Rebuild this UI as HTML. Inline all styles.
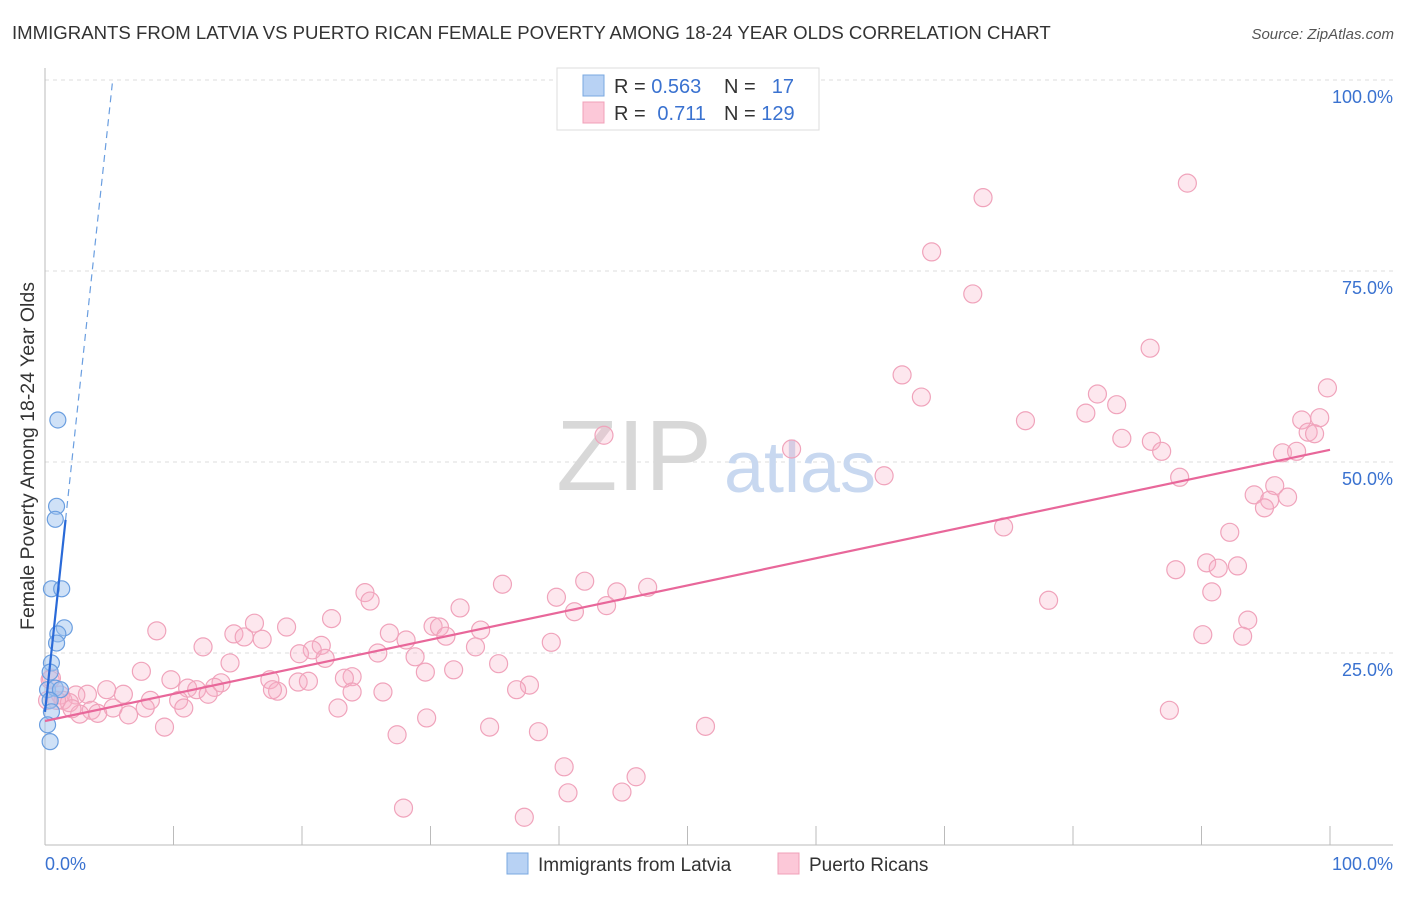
<!DOCTYPE html>
<html><head><meta charset="utf-8"><style>
body{margin:0;background:#fff;font-family:"Liberation Sans",sans-serif;}
svg text{font-family:"Liberation Sans",sans-serif;}
</style></head><body>
<svg id="chart" width="1406" height="892" viewBox="0 0 1406 892">
<text x="12" y="39" font-size="18.6" fill="#333">IMMIGRANTS FROM LATVIA VS PUERTO RICAN FEMALE POVERTY AMONG 18-24 YEAR OLDS CORRELATION CHART</text>
<text x="1394" y="39" font-size="15" fill="#555" font-style="italic" text-anchor="end">Source: ZipAtlas.com</text>
<g id="grid"></g>
<text x="634" y="490" font-size="100" fill="#d8d8d8" font-family="Liberation Serif" text-anchor="middle">ZIP</text>
<text x="800" y="492" font-size="72" fill="#c8d8f0" text-anchor="middle">atlas</text>
<g id="marks"></g>
<text x="34" y="456" font-size="19.5" fill="#333" text-anchor="middle" transform="rotate(-90 34 456)">Female Poverty Among 18-24 Year Olds</text>
<g>
<rect x="557" y="68" width="262" height="62" fill="#fff" stroke="#ddd"/>
<rect x="583" y="75" width="21" height="21" fill="#b8d2f4" stroke="#7aa8e0"/>
<rect x="583" y="102" width="21" height="21" fill="#fcc8d8" stroke="#f0a0b8"/>
<text x="614" y="93" font-size="20" fill="#333">R = <tspan fill="#3a72d0">0.563</tspan></text>
<text x="724" y="93" font-size="20" fill="#333">N = </text><text x="794" y="93" font-size="20" fill="#3a72d0" text-anchor="end">17</text>
<text x="614" y="120" font-size="20" fill="#333">R = </text><text x="706" y="120" font-size="20" fill="#3a72d0" text-anchor="end">0.711</text>
<text x="724" y="120" font-size="20" fill="#333">N = <tspan fill="#3a72d0">129</tspan></text>
</g>
<g>
<rect x="507" y="853" width="21" height="21" fill="#b8d2f4" stroke="#7aa8e0"/>
<text x="538" y="871" font-size="19" fill="#333">Immigrants from Latvia</text>
<rect x="778" y="853" width="21" height="21" fill="#fcc8d8" stroke="#f0a0b8"/>
<text x="809" y="871" font-size="19" fill="#333">Puerto Ricans</text>
</g>
</svg>
<script>
const yTicks=[25,50,75,100];
const yTickLabels=["25.0%","50.0%","75.0%","100.0%"];
const xTickLabels=["0.0%","100.0%"];
const latviaX=[1.0,0.9,0.8,0.5,1.3,1.5,1.0,0.9,0.5,0.4,0.2,0.8,1.2,0.4,0.5,0.2,0.4];
const latviaY=[55.5,44.2,42.5,33.4,33.4,28.3,27.5,26.3,23.7,22.5,20.2,20.4,20.2,18.8,17.3,15.6,13.4];
const prX=[88.9,73.0,69.0,72.2,86.0,66.7,99.8,68.2,81.9,83.4,81.0,76.3,97.8,99.2,43.5,98.3,98.8,83.8,86.1,86.9,58.1,96.3,97.4,65.3,88.3,94.1,95.7,95.3,96.7,94.9,74.6,92.2,90.4,91.3,92.8,88.0,90.8,42.0,35.6,46.9,44.5,39.8,78.1,24.9,25.3,32.3,43.7,41.2,22.3,93.6,16.3,18.8,8.7,30.2,30.7,33.9,26.8,14.7,16.9,15.5,39.4,90.1,93.2,28.1,31.2,21.5,12.3,20.8,19.8,33.5,25.9,21.8,28.8,14.4,35.3,7.5,31.8,29.6,23.9,23.3,17.5,19.7,20.5,9.8,13.7,13.2,11.1,11.8,37.7,4.8,6.1,18.1,17.7,23.9,26.3,36.7,12.7,8.2,10.4,3.3,2.4,1.2,1.4,1.9,5.3,3.6,7.8,6.5,4.1,2.7,10.8,22.8,2.1,87.5,29.7,9.3,51.4,34.6,38.4,27.4,40.4,46.0,40.7,44.9,27.9,37.3,0.4,0.5,0.9,0.2];
const prY=[86.5,84.6,77.5,72.0,64.9,61.4,59.7,58.5,58.9,57.5,56.4,55.4,55.5,55.8,53.5,53.9,53.7,53.1,52.7,51.4,51.7,51.2,51.4,48.2,48.0,45.7,46.9,45.0,45.4,44.0,41.5,40.8,36.8,36.1,36.4,35.9,33.0,34.4,34.0,33.6,33.0,32.3,31.9,32.9,31.8,30.9,31.2,30.4,29.5,29.3,28.9,28.4,27.9,28.5,28.4,28.0,27.6,27.5,26.8,27.1,26.4,27.4,27.2,26.7,27.2,26.0,25.8,25.4,24.9,25.8,25.0,24.3,24.5,23.7,23.6,22.6,22.8,22.5,21.9,21.7,21.5,21.2,21.3,21.5,21.1,20.5,20.4,20.2,20.8,20.2,19.6,20.0,20.2,19.9,19.9,20.2,19.6,18.8,18.8,19.6,19.5,19.5,18.8,18.5,17.8,17.5,17.8,16.9,17.1,17.0,17.8,17.8,17.7,17.5,16.5,15.3,15.4,15.3,14.7,14.3,10.1,8.8,6.7,6.8,4.7,3.5,21.5,21.7,18.8,18.8];
const latviaTrend=[17.3,15.7]; // intercept, slope
const prTrend=[16.1,0.355];
const X0=45,X1=1330,Y0=844,Y1=80;
const sx=v=>X0+(X1-X0)*v/100, sy=v=>Y0-(Y0-Y1)*v/100;
const NS="http://www.w3.org/2000/svg";
function mk(t,a,p){const e=document.createElementNS(NS,t);for(const k in a)e.setAttribute(k,a[k]);p.appendChild(e);return e;}
const grid=document.getElementById('grid'),marks=document.getElementById('marks');
yTicks.forEach((t,i)=>{
 const l=mk('line',{x1:45,x2:1393,y1:sy(t),y2:sy(t),stroke:'#ddd','stroke-dasharray':'4,4'},grid);
 
 
 const tx=mk('text',{x:1393,y:sy(t)+23,'font-size':18,fill:'#3a72d0','text-anchor':'end'},grid);
 tx.textContent=yTickLabels[i];
 
 
});
const ax=mk('line',{x1:45,x2:1393,y1:845,y2:845,stroke:'#bbb'},grid);


const ay=mk('line',{x1:45,x2:45,y1:68,y2:845,stroke:'#bbb'},grid);


for(let i=0;i<=10;i++){
 const t=mk('line',{x1:sx(i*10),x2:sx(i*10),y1:826,y2:845,stroke:'#bbb'},grid);
 
 
}
[[0,'start',45],[100,'end',1393]].forEach((d,i)=>{
 const tx=mk('text',{x:d[2],y:870,'font-size':18,fill:'#3a72d0','text-anchor':d[1]},grid);
 tx.textContent=xTickLabels[i];
 
 
});
prX.forEach((x,i)=>{
 const c=mk('circle',{cx:sx(x),cy:sy(prY[i]),r:9,fill:'rgba(248,175,198,0.3)',stroke:'#f0a3bb','stroke-width':1.2},marks);
 
 
});
latviaX.forEach((x,i)=>{
 const c=mk('circle',{cx:sx(x),cy:sy(latviaY[i]),r:8,fill:'rgba(160,195,240,0.5)',stroke:'#6a9ee0','stroke-width':1.2},marks);
 
 
});
const pl=mk('line',{x1:sx(0),y1:sy(prTrend[0]),x2:sx(100),y2:sy(prTrend[0]+prTrend[1]*100),stroke:'#e8679a','stroke-width':2.2},marks);


const xe=(100-latviaTrend[0])/latviaTrend[1];
const ld=mk('line',{x1:sx(1.6),y1:sy(latviaTrend[0]+latviaTrend[1]*1.6),x2:sx(xe),y2:sy(100),stroke:'#6a9ee0','stroke-width':1.2,'stroke-dasharray':'7,5'},marks);


const ls=mk('line',{x1:sx(0),y1:sy(latviaTrend[0]),x2:sx(1.6),y2:sy(latviaTrend[0]+latviaTrend[1]*1.6),stroke:'#2a6ad8','stroke-width':2.2},marks);


</script>
</body></html>
